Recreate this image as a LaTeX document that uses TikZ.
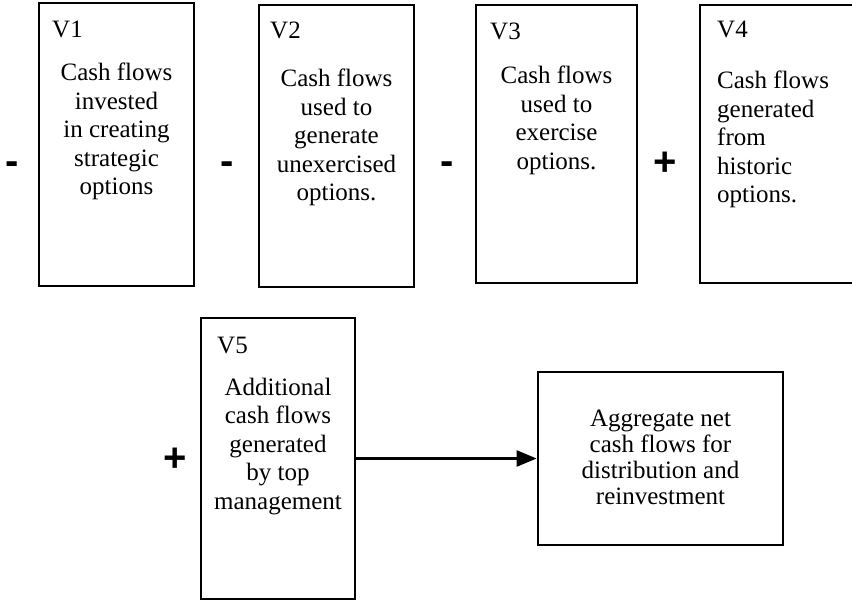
\documentclass[tikz,border=0pt]{standalone}
\usepackage{fontspec}
\setmainfont{Liberation Serif}
\newfontfamily\signfont{Liberation Sans}
\usetikzlibrary{arrows.meta}
\tikzstyle{arrow} = [line width=2.6pt,-{Triangle[length=20pt,width=16pt]}]

\begin{document}
\begin{tikzpicture}
        [
            x=1pt, y=-1pt,
            box/.style={rectangle,draw=black,line width=2.8pt,inner sep=0pt},
            tag/.style={anchor=base west,inner sep=0pt,font=\fontsize{25}{28.4}\selectfont},
            body/.style={anchor=north,align=center,inner sep=0pt,font=\fontsize{25}{28.4}\selectfont},
            sign/.style={anchor=base,inner sep=0pt,font=\signfont\bfseries\fontsize{40}{40}\selectfont},
        ]
    \useasboundingbox (0,0) rectangle (852,600);

    % value boxes
    \node[box,minimum width=155pt,minimum height=283pt] (v1) at (116.5,144.5){};
    \node[box,minimum width=155pt,minimum height=282pt] (v2) at (336.5,146){};
    \node[box,minimum width=161pt,minimum height=278pt] (v3) at (556.5,144){};
    \node[box,minimum width=160pt,minimum height=278pt] (v4) at (780,144){};
    \node[box,minimum width=154pt,minimum height=281pt] (v5) at (278,458.5){};
    \node[box,minimum width=245pt,minimum height=173pt] (agg) at (660.5,458.5){};

    % tags
    \node[tag] (t1) at (52,37){V1};
    \node[tag] (t2) at (270,38){V2};
    \node[tag] (t3) at (490,39){V3};
    \node[tag] (t4) at (717,37){V4};
    \node[tag] (t5) at (217,353){V5};

    % texts
    \node[body] (b1) at (116.5,63){Cash flows\\invested\\in creating\\strategic\\options};
    \node[body] (b2) at (336.5,69){Cash flows\\used to\\generate\\unexercised\\options.};
    \node[body] (b3) at (556.5,66){Cash flows\\used to\\exercise\\options.};
    \node[body,anchor=north west,align=left] (b4) at (717,71){Cash flows\\generated\\from\\historic\\options.};
    \node[body] (b5) at (278,378){Additional\\cash flows\\generated\\by top\\management};
    \node[body,font=\fontsize{25}{26}\selectfont] (bagg) at (660.5,410){Aggregate net\\cash flows for\\distribution and\\reinvestment};

    % signs
    \foreach \n/\x/\y/\s in {m1/12/174.5/-, m2/227/174.5/-, m3/447.5/174/-, p1/665/175.7/+, p2/175/471/+}
        \node[sign] (\n) at (\x,\y){\s};

    \draw[arrow] (v5) -- (agg);
    \end{tikzpicture}
\end{document}
